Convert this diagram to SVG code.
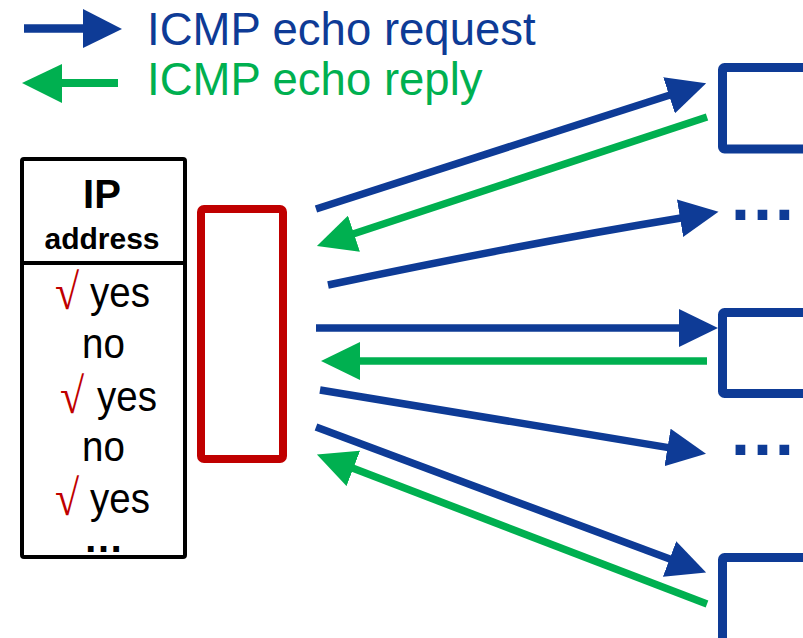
<svg xmlns="http://www.w3.org/2000/svg" width="803" height="638" viewBox="0 0 803 638">
<style>
.blue{stroke:#0E3B96;fill:none;stroke-width:7.5}
.green{stroke:#00B050;fill:none;stroke-width:7.5}
.lgb{font-family:"Liberation Sans",Arial,sans-serif;font-size:45.5px;fill:#0E3B96}
.lgg{font-family:"Liberation Sans",Arial,sans-serif;font-size:45.5px;fill:#00B050}
.cell{font-family:"Liberation Sans",Arial,sans-serif;font-size:38.5px;fill:#000}
.hd{font-family:"Liberation Sans",Arial,sans-serif;font-weight:bold;fill:#000;text-anchor:middle}
.chk{font-family:"Liberation Serif","DejaVu Serif",serif;font-size:44px;fill:#C00000}
.dots{font-family:"Liberation Sans",Arial,sans-serif;font-weight:bold;font-size:69px;fill:#0E3B96;text-anchor:middle}
.host{fill:#fff;stroke:#0E3B96;stroke-width:9}
</style>
<defs>
<marker id="ab" markerUnits="userSpaceOnUse" markerWidth="40" markerHeight="38" refX="1" refY="19" orient="auto" viewBox="0 0 40 38"><path d="M0,0 L39,19 L0,38 z" fill="#0E3B96"/></marker>
<marker id="ag" markerUnits="userSpaceOnUse" markerWidth="40" markerHeight="38" refX="1" refY="19" orient="auto" viewBox="0 0 40 38"><path d="M0,0 L39,19 L0,38 z" fill="#00B050"/></marker>
</defs>
<g id="legend">
<line x1="24" y1="28.5" x2="84" y2="28.5" stroke="#0E3B96" stroke-width="8.5"/>
<polygon points="83,9 122,29 83,48" fill="#0E3B96"/>
<text class="lgb" x="147" y="45">ICMP echo request</text>
<line x1="61" y1="83" x2="118" y2="83" stroke="#00B050" stroke-width="8"/>
<polygon points="22,83 62,64 62,103" fill="#00B050"/>
<text class="lgg" x="147" y="95">ICMP echo reply</text>
</g>
<g id="table">
<rect x="22" y="159" width="163" height="398" rx="2" fill="#fff" stroke="#000" stroke-width="4"/>
<line x1="22" y1="263" x2="185" y2="263" stroke="#000" stroke-width="4"/>
<text class="hd" x="102" y="208" font-size="40">IP</text>
<text class="hd" x="102" y="249" font-size="30">address</text>
<text class="chk" transform="translate(55,309) scale(1,1.14)">√</text>
<text class="cell" transform="translate(90,307) scale(1,1.1)">yes</text>
<text class="cell" transform="translate(82,358) scale(1,1.1)">no</text>
<text class="chk" transform="translate(60,413) scale(1,1.14)">√</text>
<text class="cell" transform="translate(97,411) scale(1,1.1)">yes</text>
<text class="cell" transform="translate(82,461) scale(1,1.1)">no</text>
<text class="chk" transform="translate(55,515) scale(1,1.14)">√</text>
<text class="cell" transform="translate(90,513) scale(1,1.1)">yes</text>
<text class="hd" x="103.5" y="552" font-size="40">…</text>
</g>
<g id="scanner">
<rect x="201" y="209" width="82" height="250" rx="3" fill="#fff" stroke="#C00000" stroke-width="8"/>
</g>
<g id="host1"><rect class="host" x="722.5" y="67.5" width="100" height="81.5" rx="2"/></g>
<g id="host2"><text class="dots" x="762.5" y="219.5">…</text></g>
<g id="host3"><rect class="host" x="722.5" y="312.5" width="100" height="81" rx="2"/></g>
<g id="host4"><text class="dots" x="762.5" y="455">…</text></g>
<g id="host5"><rect class="host" x="722.5" y="557.5" width="100" height="100" rx="2"/></g>
<g id="connectors">
<path class="blue" d="M316,209 L670,95" marker-end="url(#ab)"/>
<path class="green" d="M707,117 L353,234" marker-end="url(#ag)"/>
<path class="blue" d="M328,285 Q526,243.5 681,218" marker-end="url(#ab)"/>
<path class="blue" d="M316,328 L680,328" marker-end="url(#ab)"/>
<path class="green" d="M707,361 L359,361" marker-end="url(#ag)"/>
<path class="blue" d="M320,390 L668.5,447.6" marker-end="url(#ab)"/>
<path class="blue" d="M316,427 L670.5,559.3" marker-end="url(#ab)"/>
<path class="green" d="M707,604 L352.4,468" marker-end="url(#ag)"/>
</g>
</svg>
